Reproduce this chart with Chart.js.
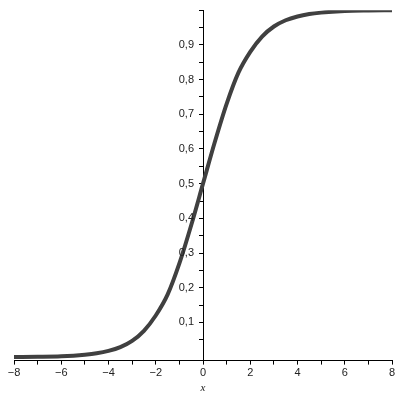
<!DOCTYPE html>
<html>
<head>
<meta charset="utf-8">
<script src="https://cdn.jsdelivr.net/npm/chart.js@4"></script>
<style>
  html, body { margin: 0; padding: 0; background: #fff; }
  #wrap { width: 400px; height: 400px; }
</style>
</head>
<body>
<div id="wrap"><canvas id="sigmoid" width="400" height="400"></canvas></div>
<script>
// Data
const xValues = [-8, -7, -6, -5, -4.5, -4, -3.5, -3, -2.5, -2, -1.5, -1, -0.5, 0, 0.5, 1, 1.5, 2, 2.5, 3, 3.5, 4, 4.5, 5, 6, 7, 8];
const yValues = [0.0003, 0.001, 0.0025, 0.007, 0.011, 0.018, 0.029, 0.047, 0.076, 0.12, 0.18, 0.27, 0.38, 0.5, 0.62, 0.73, 0.82, 0.88, 0.924, 0.953, 0.971, 0.982, 0.989, 0.993, 0.9975, 0.999, 0.9997];
const xTickLabels = [-8, -6, -4, -2, 0, 2, 4, 6, 8];
const yTickLabels = [0.1, 0.2, 0.3, 0.4, 0.5, 0.6, 0.7, 0.8, 0.9];

const points = xValues.map((x, i) => ({ x: x, y: yValues[i] }));
const tickFont = { family: "'Liberation Sans', sans-serif", size: 11 };

// y labels sit left of the centred axis; Chart.js puts them on the line itself
const yAxisLabels = {
    id: 'yAxisLabels',
    afterDraw(chart) {
        const ctx = chart.ctx;
        const xs = chart.scales.x, ys = chart.scales.y;
        const axisX = xs.getPixelForValue(0);
        ctx.save();
        ctx.font = tickFont.size + 'px ' + tickFont.family;
        ctx.fillStyle = '#222';
        ctx.textAlign = 'right';
        ctx.textBaseline = 'middle';
        yTickLabels.forEach(v => {
            ctx.fillText(v.toFixed(1).replace('.', ','), axisX - 9, ys.getPixelForValue(v));
        });
        ctx.restore();
    }
};

new Chart(document.getElementById('sigmoid').getContext('2d'), {
    type: 'scatter',
    data: {
        datasets: [{
            data: points,
            showLine: true,
            borderColor: '#404040',
            borderWidth: 4,
            pointRadius: 0,
            cubicInterpolationMode: 'monotone'
        }]
    },
    options: {
        responsive: false,
        animation: false,
        layout: { padding: { left: 14, right: 8, top: 10, bottom: 5 } },
        plugins: { legend: { display: false }, tooltip: { enabled: false } },
        scales: {
            x: {
                type: 'linear',
                position: 'bottom',
                min: -8,
                max: 8,
                grid: { drawOnChartArea: false, drawTicks: true, tickLength: 4, color: '#000' },
                border: { color: '#000', width: 1 },
                ticks: {
                    stepSize: 1,
                    autoSkip: false,
                    maxRotation: 0,
                    padding: 2,
                    color: '#222',
                    font: tickFont,
                    callback: function (value) {
                        return xTickLabels.includes(value) ? String(value).replace('-', '\u2212') : '';
                    }
                },
                title: {
                    display: true,
                    text: 'x',
                    color: '#222',
                    padding: { top: 0, bottom: 0 },
                    font: { family: "'Liberation Serif', serif", size: 11, style: 'italic' }
                }
            },
            y: {
                type: 'linear',
                position: { x: 0 },
                min: -0.01,
                max: 1.0,
                grid: { drawOnChartArea: false, drawTicks: true, tickLength: 4, color: '#000' },
                border: { color: '#000', width: 1 },
                ticks: {
                    stepSize: 0.05,
                    autoSkip: false,
                    callback: function () { return ''; }
                }
            }
        }
    },
    plugins: [yAxisLabels]
});
</script>
</body>
</html>
